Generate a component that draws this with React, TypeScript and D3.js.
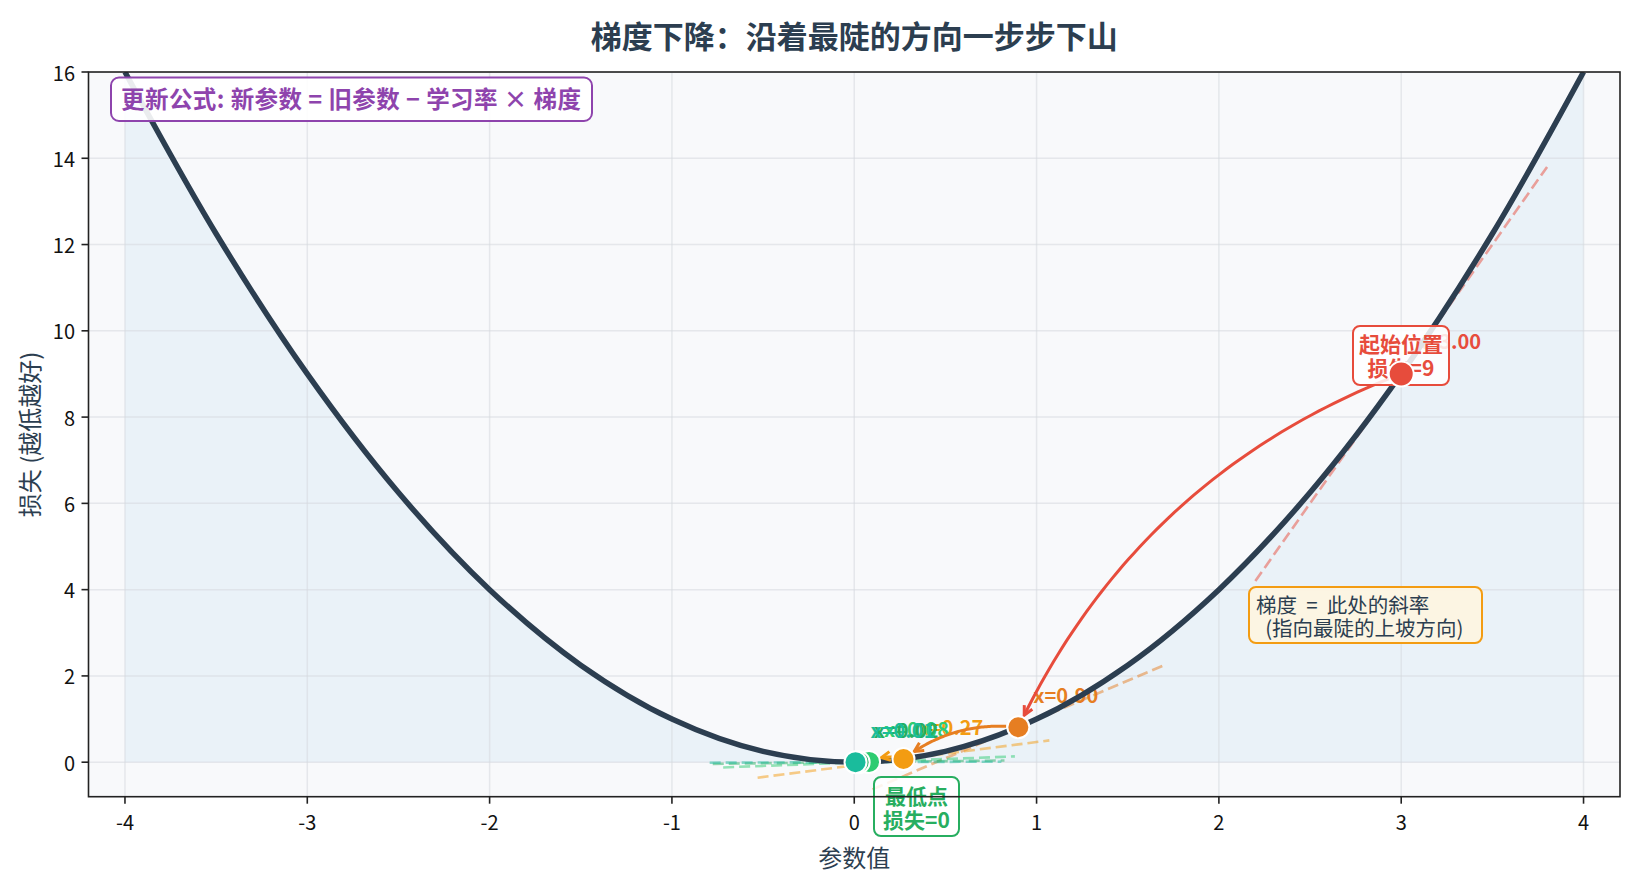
import * as d3 from "d3"

// loss curve samples
const curveX = [-4, -3.5, -3, -2.5, -2, -1.5, -1, -0.5, 0, 0.5, 1, 1.5, 2, 2.5, 3, 3.5, 4]
const curveLoss = [16, 12.25, 9, 6.25, 4, 2.25, 1, 0.25, 0, 0.25, 1, 2.25, 4, 6.25, 9, 12.25, 16]

// descent steps
const stepX = [3.0, 0.9, 0.27, 0.081, 0.024, 0.007]
const stepLoss = [9, 0.81, 0.073, 0.0066, 0.0006, 0.00005]
const stepGrad = [6, 1.8, 0.54, 0.16, 0.049, 0.015]
const stepLabels = ["x=3.00", "x=0.90", "x=0.27", "x=0.08", "x=0.02", "x=0.01"]
const stepColors = ["#e74c3c", "#e67e22", "#f39c12", "#2ecc71", "#27ae60", "#1abc9c"]

const xTicks = [-4, -3, -2, -1, 0, 1, 2, 3, 4]
const yTicks = [0, 2, 4, 6, 8, 10, 12, 14, 16]

const W = 1635
const H = 884
const L = 88.5
const R = 1620
const T = 72
const B = 796.7
const FONT = "'Noto Sans CJK SC', 'Noto Sans', sans-serif"
const INK = "#2c3e50"

type P = [number, number]

function arrowPath(p0: P, p1: P, rad: number, shrinkA: number, shrinkB: number) {
  const mid: P = [(p0[0] + p1[0]) / 2, (p0[1] + p1[1]) / 2]
  const dx = p1[0] - p0[0]
  const dy = p1[1] - p0[1]
  const c: P = [mid[0] - rad * dy, mid[1] + rad * dx]
  const bez = (t: number): P => [
    (1 - t) * (1 - t) * p0[0] + 2 * (1 - t) * t * c[0] + t * t * p1[0],
    (1 - t) * (1 - t) * p0[1] + 2 * (1 - t) * t * c[1] + t * t * p1[1],
  ]
  const dist = (a: P, b: P) => Math.hypot(a[0] - b[0], a[1] - b[1])
  const ts = d3.range(0, 1.0001, 0.002)
  const t0 = ts.find((t) => dist(bez(t), p0) >= shrinkA) ?? 0
  const t1 = [...ts].reverse().find((t) => dist(bez(t), p1) >= shrinkB) ?? 1
  const pts = d3.range(0, 61).map((i) => bez(t0 + ((t1 - t0) * i) / 60))
  const tip = pts[pts.length - 1]
  const prev = pts[pts.length - 3]
  const ang = Math.atan2(tip[1] - prev[1], tip[0] - prev[0])
  const hl = 9
  const hw = 4.5
  const back: P = [tip[0] - hl * Math.cos(ang), tip[1] - hl * Math.sin(ang)]
  const n: P = [-Math.sin(ang), Math.cos(ang)]
  const head = `M${back[0] + hw * n[0]},${back[1] + hw * n[1]}L${tip[0]},${tip[1]}L${back[0] - hw * n[0]},${back[1] - hw * n[1]}`
  return { body: d3.line()(pts) ?? "", head }
}

export default function App() {
  const x = d3.scaleLinear().domain([-4.2, 4.2]).range([L, R])
  const y = d3.scaleLinear().domain([-0.8, 16]).range([B, T])

  const curvePts = curveX.map((v, i) => [v, curveLoss[i]] as [number, number])
  const line = d3
    .line<[number, number]>()
    .x((d) => x(d[0]))
    .y((d) => y(d[1]))
    .curve(d3.curveCatmullRom.alpha(0.5))
  const area = d3
    .area<[number, number]>()
    .x((d) => x(d[0]))
    .y0(y(0))
    .y1((d) => y(d[1]))
    .curve(d3.curveCatmullRom.alpha(0.5))

  const pts: P[] = stepX.map((v, i) => [x(v), y(stepLoss[i])])

  return (
    <svg width={W} height={H} style={{ position: "absolute", left: 0, top: 0, background: "#fff" }} fontFamily={FONT}>
      <defs>
        <clipPath id="plot">
          <rect x={L} y={T} width={R - L} height={B - T} />
        </clipPath>
      </defs>
      <text x={(L + R) / 2} y={34} textAnchor="middle" dominantBaseline="central" fontSize={31} fontWeight="bold" fill={INK}>
        梯度下降：沿着最陡的方向一步步下山
      </text>

      <rect x={L} y={T} width={R - L} height={B - T} fill="#f8f9fb" />
      <g clipPath="url(#plot)">
        <path d={area(curvePts) ?? ""} fill="#3498db" fillOpacity={0.07} />
        {xTicks.map((t) => (
          <line key={`gx${t}`} x1={x(t)} x2={x(t)} y1={T} y2={B} stroke="#d5d9de" strokeOpacity={0.55} strokeWidth={1.5} />
        ))}
        {yTicks.map((t) => (
          <line key={`gy${t}`} x1={L} x2={R} y1={y(t)} y2={y(t)} stroke="#d5d9de" strokeOpacity={0.55} strokeWidth={1.5} />
        ))}

        {stepX.map((v, i) => (
          <text
            key={`lab${i}`}
            x={pts[i][0] + 15}
            y={pts[i][1] - 33}
            dominantBaseline="central"
            fontSize={20}
            fontWeight="bold"
            fill={stepColors[i]}
          >
            {stepLabels[i]}
          </text>
        ))}

        {stepX.map((v, i) => (
          <line
            key={`tan${i}`}
            x1={x(v - 0.8)}
            x2={x(v + 0.8)}
            y1={y(stepLoss[i] - 0.8 * stepGrad[i])}
            y2={y(stepLoss[i] + 0.8 * stepGrad[i])}
            stroke={stepColors[i]}
            strokeOpacity={0.5}
            strokeWidth={2.6}
            strokeDasharray="11,5"
          />
        ))}

        <path d={line(curvePts) ?? ""} fill="none" stroke={INK} strokeWidth={5.5} />

        {pts.slice(0, -1).map((p, i) => {
          const a = arrowPath(p, pts[i + 1], 0.2, 12, 13)
          return (
            <g key={`arr${i}`} stroke={stepColors[i]} strokeWidth={3} fill="none">
              <path d={a.body} />
              <path d={a.head} strokeLinejoin="miter" />
            </g>
          )
        })}
      </g>

      {/* start box */}
      <rect x={1353} y={326} width={96} height={59} rx={7} fill="#fff" fillOpacity={0.85} stroke="#e74c3c" strokeWidth={2} />
      <text x={1401} y={343} textAnchor="middle" dominantBaseline="central" fontSize={21} fontWeight="bold" fill="#e74c3c">
        起始位置
      </text>
      <text x={1401} y={367} textAnchor="middle" dominantBaseline="central" fontSize={21} fontWeight="bold" fill="#e74c3c">
        损失=9
      </text>

      {/* minimum box */}
      <rect x={874} y={777} width={85} height={59} rx={7} fill="#fff" fillOpacity={0.85} stroke="#27ae60" strokeWidth={2} />
      <text x={916.5} y={795} textAnchor="middle" dominantBaseline="central" fontSize={21} fontWeight="bold" fill="#27ae60">
        最低点
      </text>
      <text x={916.5} y={818.5} textAnchor="middle" dominantBaseline="central" fontSize={21} fontWeight="bold" fill="#27ae60">
        损失=0
      </text>

      {/* gradient note */}
      <rect x={1249} y={587} width={233} height={56} rx={7} fill="#fef5e0" fillOpacity={0.9} stroke="#f39c12" strokeWidth={2} />
      <text x={1256} y={604} dominantBaseline="central" fontSize={20.5} fill={INK} style={{ whiteSpace: "pre" }}>
        {"梯度  =  此处的斜率"}
      </text>
      <text x={1256} y={627} dominantBaseline="central" fontSize={20.5} fill={INK} style={{ whiteSpace: "pre" }}>
        {"  (指向最陡的上坡方向)"}
      </text>

      {/* formula */}
      <rect x={111} y={77.5} width={481} height={43.5} rx={8} fill="#fff" fillOpacity={0.9} stroke="#8e44ad" strokeWidth={2} />
      <text
        x={121}
        y={98}
        dominantBaseline="central"
        fontSize={23.5}
        fontWeight="bold"
        fill="#8e44ad"
        textLength={460}
        lengthAdjust="spacing"
        style={{ whiteSpace: "pre" }}
      >
        {"更新公式: 新参数 = 旧参数 − 学习率 × 梯度"}
      </text>

      {pts.map((p, i) => (
        <circle key={`pt${i}`} cx={p[0]} cy={p[1]} r={i === 0 ? 12.5 : 11} fill={stepColors[i]} stroke="#fff" strokeWidth={2} />
      ))}

      <rect x={L} y={T} width={R - L} height={B - T} fill="none" stroke="#222" strokeWidth={1.6} />

      {xTicks.map((t) => (
        <g key={`xt${t}`}>
          <line x1={x(t)} x2={x(t)} y1={B} y2={B + 7} stroke="#222" strokeWidth={1.6} />
          <text x={x(t)} y={821} textAnchor="middle" dominantBaseline="central" fontSize={20} fill="#111">
            {t}
          </text>
        </g>
      ))}
      {yTicks.map((t) => (
        <g key={`yt${t}`}>
          <line x1={L - 7} x2={L} y1={y(t)} y2={y(t)} stroke="#222" strokeWidth={1.6} />
          <text x={75} y={y(t)} textAnchor="end" dominantBaseline="central" fontSize={20} fill="#111">
            {t}
          </text>
        </g>
      ))}

      <text x={(L + R) / 2} y={856} textAnchor="middle" dominantBaseline="central" fontSize={24} fill={INK}>
        参数值
      </text>
      <text
        transform={`translate(28,${(T + B) / 2}) rotate(-90)`}
        textAnchor="middle"
        dominantBaseline="central"
        fontSize={24}
        fill={INK}
      >
        损失 (越低越好)
      </text>
    </svg>
  )
}
